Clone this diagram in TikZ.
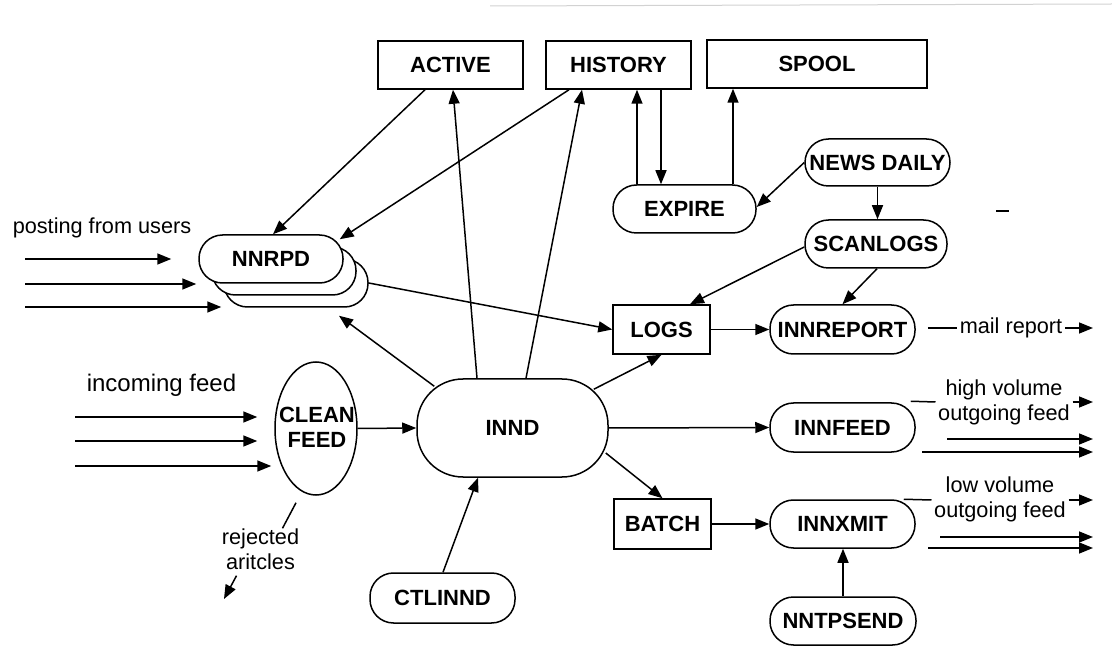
\documentclass[tikz,border=0pt]{standalone}
\usepackage{fontspec}
\setmainfont{Liberation Sans}
\usetikzlibrary{arrows.meta,shapes.geometric}
\begin{document}
\begin{tikzpicture}[x=1pt,y=1pt,line width=1.5pt,
  lbl/.style={font=\fontsize{22}{25}\selectfont\bfseries, inner sep=0pt},
  box/.style={lbl, draw, rectangle, minimum height=48pt, fill=white},
  pill/.style={lbl, draw, rectangle, rounded corners=23.5pt,
    minimum height=48pt, minimum width=145pt, fill=white},
  txt/.style={font=\fontsize{21.7}{25}\selectfont, inner sep=2pt, align=center},
  arr/.style={-{Triangle[length=14pt,width=11pt]}},
]
\fill[white] (0,0) rectangle (1112,-668);
\useasboundingbox (0,0) rectangle (1112,-668);

% faint rule along the top edge
\draw[gray!35, line width=1pt] (490,-6) -- (1112,-4);

% data files
\node[box, minimum width=145pt] (active)  at (450.5,-65) {ACTIVE};
\node[box, minimum width=145pt] (history) at (618.5,-65) {HISTORY};
\node[box, minimum width=220pt] (spool)   at (817,-64)   {SPOOL};

% stacked NNRPD processes
\node[pill, minimum width=144pt] (nnrpd3) at (296,-283) {};
\node[pill, minimum width=144pt] (nnrpd2) at (284,-271) {};
\node[pill, minimum width=144pt] (nnrpd)  at (271,-259) {NNRPD};

% feed filter
\node[draw, ellipse, minimum width=82pt, minimum height=133pt, inner sep=0pt, fill=white] (clean) at (316,-428.5) {};
\node[lbl, align=center] (cleantext) at (317,-427.5) {CLEAN\\FEED};

% server and helpers
\node[pill, minimum width=191pt, minimum height=98pt, rounded corners=46pt] (innd) at (512.5,-428) {INND};
\node[box, minimum width=97pt, minimum height=49pt] (logs) at (661.5,-329.5) {LOGS};
\node[pill, minimum width=143pt] (expire) at (684.5,-209) {EXPIRE};
\node[pill, minimum height=47pt] (newsdaily) at (877.5,-162.5) {NEWS DAILY};
\node[pill, minimum width=142pt] (scanlogs) at (876,-244) {SCANLOGS};
\node[pill, minimum height=49pt] (innreport) at (842.5,-329.5) {INNREPORT};
\node[pill, minimum height=49pt] (innfeed) at (842.5,-427.5) {INNFEED};
\node[box, minimum width=97pt, minimum height=50pt] (batch) at (662.5,-524) {BATCH};
\node[pill] (innxmit) at (842.5,-524) {INNXMIT};
\node[pill, minimum width=146pt] (nntpsend) at (843,-621) {NNTPSEND};
\node[pill, minimum height=50pt] (ctlinnd) at (442.5,-598) {CTLINND};

% free texts
\node[txt] (posting) at (102,-228) {posting from users};
\node[txt, font=\fontsize{24}{28}\selectfont] (incoming) at (161.5,-385) {incoming feed};
\node[txt] (mail) at (1011,-328) {mail report};
\node[txt] (hv) at (1004,-402) {high volume\\outgoing feed};
\node[txt] (lv) at (1000,-499.5) {low volume\\outgoing feed};
\node[txt] (rej) at (260.5,-549.5) {rejected\\aritcles};

% loose end points
\coordinate (p1) at (25,-259);
\coordinate (p2) at (25,-284);
\coordinate (p3) at (25,-307);
\coordinate (f1) at (75,-417);
\coordinate (f2) at (75,-441);
\coordinate (f3) at (75,-466);
\coordinate (rejout) at (224,-599);
\coordinate (mailout) at (1093,-328);
\coordinate (hvout) at (1093,-402);
\coordinate (hva) at (947,-439);
\coordinate (hvb) at (922,-452);
\coordinate (lvout) at (1093,-500);
\coordinate (lva) at (940,-537);
\coordinate (lvb) at (928,-548);

% user postings
\draw[arr, shorten >=27pt] (p1) -- (p1 -| nnrpd.west);
\draw[arr, shorten >=15pt] (p2) -- (p2 -| nnrpd2.west);
\draw[arr, shorten >=2pt]  (p3) -- (p3 -| nnrpd3.west);

% incoming feeds
\draw[arr, shorten >=17pt] (f1) -- (f1 -| clean.west);
\draw[arr, shorten >=17pt] (f2) -- (f2 -| clean.west);
\draw[arr, shorten >=3pt]  (f3) -- (f3 -| clean.west);

% rejected articles
\draw ([shift={(-20pt,-7pt)}]clean.south) -- ([xshift=22pt,yshift=-2pt]rej.north);
\draw[arr] ([xshift=-24pt,yshift=-3pt]rej.south) -- (rejout);

% file access
\draw[arr] ([xshift=-25.5pt]active.south) -- ([xshift=2pt]nnrpd.north);
\draw[arr] ([xshift=-49.5pt]history.south) -- ([shift={(-4pt,-5pt)}]nnrpd.north east);
\draw[arr] ([xshift=-35.5pt]innd.north) -- ([xshift=2.5pt]active.south);
\draw[arr] ([xshift=13.5pt]innd.north) -- ([xshift=-36.5pt]history.south);
\draw[arr] ([xshift=-47.5pt]expire.north) -- ([xshift=18.5pt]history.south);
\draw[arr] ([xshift=42.5pt]history.south) -- ([xshift=-23.5pt]expire.north);
\draw[arr] ([xshift=48.5pt]expire.north) -- ([xshift=-84pt]spool.south);

% server links
\draw[arr] ([shift={(18pt,-8pt)}]innd.north west) -- ([shift={(43pt,-8pt)}]nnrpd3.south);
\draw[arr] (clean.east) -- (innd.west);
\draw[arr] (nnrpd3.east) -- (logs.west);
\draw[arr] ([shift={(-15pt,-11pt)}]innd.north east) -- (logs.south);
\draw[arr] (innd.east) -- (innfeed.west);
\draw[arr] ([shift={(-3pt,-25pt)}]innd.east) -- (batch.north);
\draw[arr] ([xshift=0.5pt]ctlinnd.north) -- ([xshift=-34.5pt]innd.south);

% daily maintenance
\draw[arr] (newsdaily.west) -- ([yshift=2pt]expire.east);
\draw[arr] (newsdaily.south) -- (newsdaily.south |- scanlogs.north);
\draw[arr] ([yshift=-3pt]scanlogs.west) -- ([xshift=28.5pt]logs.north);
\draw[arr] ([xshift=1pt]scanlogs.south) -- (innreport.north);
\draw[arr] (logs.east) -- (innreport.west);

% outgoing
\draw ([xshift=12pt,yshift=1.5pt]innreport.east) -- (mail.west);
\draw[arr] (mail.east) -- (mailout);
\draw[arr] (batch.east) -- (innxmit.west);
\draw[arr] (nntpsend.north) -- (nntpsend.north |- innxmit.south);

\draw ([xshift=-5pt,yshift=1pt]innfeed.north east) -- (hv.west |- hvout);
\draw[arr] (hv.east |- hvout) -- (hvout);
\draw[arr] (hva) -- (hva -| hvout);
\draw[arr] (hvb) -- (hvb -| hvout);

\draw ([xshift=-12pt]innxmit.north east) -- (lv.west |- lvout);
\draw[arr] (lv.east |- lvout) -- (lvout);
\draw[arr] (lva) -- (lva -| lvout);
\draw[arr] (lvb) -- (lvb -| lvout);

% stray mark at right
\draw[line width=2.5pt] (996,-211) -- (1009,-211);
\end{tikzpicture}
\end{document}
